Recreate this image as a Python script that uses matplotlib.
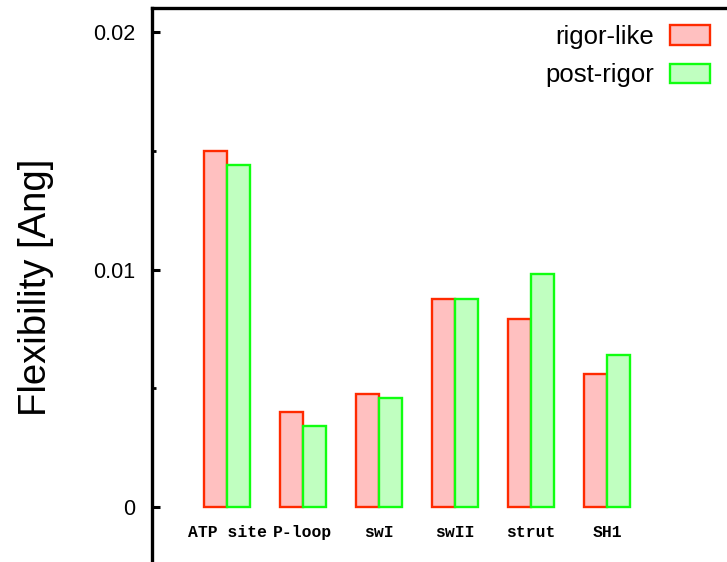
import matplotlib
matplotlib.use("Agg")
import matplotlib.pyplot as plt
from matplotlib.patches import Patch
from matplotlib.ticker import MultipleLocator
import numpy as np

categories = ["ATP site", "P-loop", "swI", "swII", "strut", "SH1"]
rigor_like = [0.0150, 0.0040, 0.00475, 0.00875, 0.0079, 0.0056]
post_rigor = [0.0144, 0.0034, 0.0046, 0.00875, 0.0098, 0.0064]
series_names = ["rigor-like", "post-rigor"]
yticks = [0, 0.01, 0.02]
ytick_labels = ["0", "0.01", "0.02"]

sans = ["Liberation Sans", "DejaVu Sans"]

W, H = 727, 562
fig = plt.figure(figsize=(W / 100, H / 100), dpi=100)
ax = fig.add_axes([152 / W, 0, 1 - 152 / W, (H - 8) / H])

x = np.arange(len(categories))
w = 0.30
ax.bar(x - w / 2, rigor_like, width=w, facecolor="#ffc0c0", edgecolor="#ff2a00",
       linewidth=1.7, label=series_names[0], zorder=2)
ax.bar(x + w / 2, post_rigor, width=w, facecolor="#c0ffc0", edgecolor="#10ff10",
       linewidth=1.7, label=series_names[1], zorder=3)

ax.set_xlim(-75 / 76, 5 + 120 / 76)
ax.set_ylim(-0.00231, 0.02101)

for s in ["right", "bottom"]:
    ax.spines[s].set_visible(False)
for s in ["left", "top"]:
    ax.spines[s].set_linewidth(2.4)

ax.set_xticks([])
ax.set_yticks(yticks)
ax.set_yticklabels(ytick_labels, family=sans, fontsize=15.5)
ax.yaxis.set_minor_locator(MultipleLocator(0.005))
ax.tick_params(axis="y", which="major", direction="in", length=6, width=2.2, pad=12)
ax.tick_params(axis="y", which="minor", direction="in", length=3, width=2.0)

for xi, lab in zip(x, categories):
    ax.text(xi, -0.00105, lab, ha="center", va="center", family=["Liberation Mono", "DejaVu Sans Mono"],
            fontweight="bold", fontsize=11.8)

fig.text(36 / W, 1 - 287 / H, "Flexibility [Ang]", rotation=90, ha="center", va="center",
         family=sans, fontsize=27.5)

handles = [Patch(facecolor="#ffc0c0", edgecolor="#ff2a00", linewidth=1.7),
           Patch(facecolor="#c0ffc0", edgecolor="#10ff10", linewidth=1.7)]
fs = 18.5
fpx = fs * 100 / 72
leg = ax.legend(handles, series_names, loc="upper right", bbox_to_anchor=(710 / W, 1 - 25 / H),
                bbox_transform=fig.transFigure, frameon=False, markerfirst=False,
                prop={"family": sans, "size": fs}, handlelength=40 / fpx, handleheight=20 / fpx,
                handletextpad=16 / fpx, labelspacing=(40 - fpx) / fpx, borderpad=0, borderaxespad=0)

fig.savefig("out.png", dpi=100)
